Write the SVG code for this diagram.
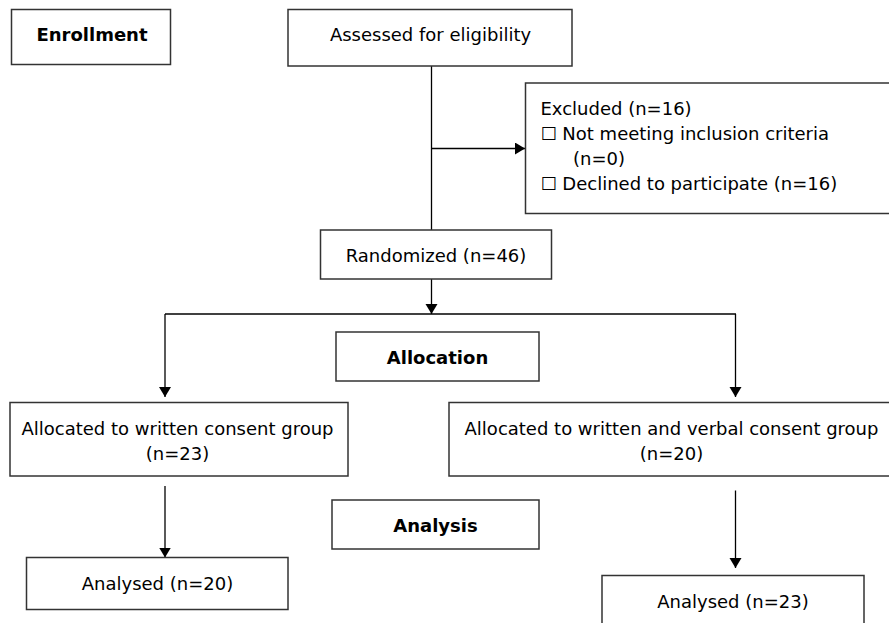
<svg xmlns="http://www.w3.org/2000/svg" width="889" height="623" viewBox="0 0 889 623">
<defs>
<style>
.box{fill:#fff;stroke:#333;stroke-width:1.5}
.t{font-family:"DejaVu Sans",Verdana,sans-serif;font-size:18px;fill:#000}
.c{text-anchor:middle}
.b{font-weight:bold}
.ln{fill:none;stroke:#000;stroke-width:1.3}
</style>
<marker id="ah" markerUnits="userSpaceOnUse" markerWidth="11" markerHeight="13" refX="10" refY="6" orient="auto">
<path d="M0,0 L10,6 L0,12 z" fill="#000"/>
</marker>
</defs>
<rect width="889" height="623" fill="#fff"/>
<g id="connectors">
<line class="ln" x1="431.5" y1="66" x2="431.5" y2="230"/>
<line class="ln" x1="431.5" y1="148.5" x2="525" y2="148.5" marker-end="url(#ah)"/>
<line class="ln" x1="431.5" y1="279" x2="431.5" y2="314" marker-end="url(#ah)"/>
<line class="ln" x1="165" y1="314" x2="736" y2="314"/>
<line class="ln" x1="165" y1="314" x2="165" y2="397" marker-end="url(#ah)"/>
<line class="ln" x1="735.5" y1="314" x2="735.5" y2="397" marker-end="url(#ah)"/>
<line class="ln" x1="165" y1="486" x2="165" y2="557.5" marker-end="url(#ah)"/>
<line class="ln" x1="735.5" y1="490.5" x2="735.5" y2="568" marker-end="url(#ah)"/>
</g>
<g id="enrollment">
<rect class="box" x="11.5" y="9.5" width="159" height="55"/>
<text class="t c b" x="92" y="41">Enrollment</text>
</g>
<g id="assessed">
<rect class="box" x="288" y="9.5" width="284" height="56.5"/>
<text class="t c" x="430.5" y="41">Assessed for eligibility</text>
</g>
<g id="excluded">
<rect class="box" x="525.5" y="83" width="370" height="130.5"/>
<text class="t" x="540.5" y="114.5">Excluded (n=16)</text>
<text class="t" x="540.5" y="139.5">☐ Not meeting inclusion criteria</text>
<text class="t" x="573" y="164.5">(n=0)</text>
<text class="t" x="540.5" y="189.5">☐ Declined to participate (n=16)</text>
</g>
<g id="randomized">
<rect class="box" x="320.5" y="230" width="231" height="49"/>
<text class="t c" x="436" y="261.5">Randomized (n=46)</text>
</g>
<g id="allocation">
<rect class="box" x="336" y="332" width="203" height="49"/>
<text class="t c b" x="437.5" y="363.5">Allocation</text>
</g>
<g id="written">
<rect class="box" x="10" y="402.5" width="338" height="73.5"/>
<text class="t c" x="177.5" y="434.5">Allocated to written consent group</text>
<text class="t c" x="177.5" y="459.5">(n=23)</text>
</g>
<g id="verbal">
<rect class="box" x="449" y="402.5" width="446" height="73.5"/>
<text class="t c" x="671.5" y="434.5">Allocated to written and verbal consent group</text>
<text class="t c" x="671.5" y="459.5">(n=20)</text>
</g>
<g id="analysis">
<rect class="box" x="332" y="500" width="207" height="49"/>
<text class="t c b" x="435.5" y="531.5">Analysis</text>
</g>
<g id="analysed-left">
<rect class="box" x="26.5" y="557.5" width="261.5" height="52"/>
<text class="t c" x="157.5" y="590">Analysed (n=20)</text>
</g>
<g id="analysed-right">
<rect class="box" x="602" y="575.5" width="262" height="55"/>
<text class="t c" x="733" y="608">Analysed (n=23)</text>
</g>
</svg>
